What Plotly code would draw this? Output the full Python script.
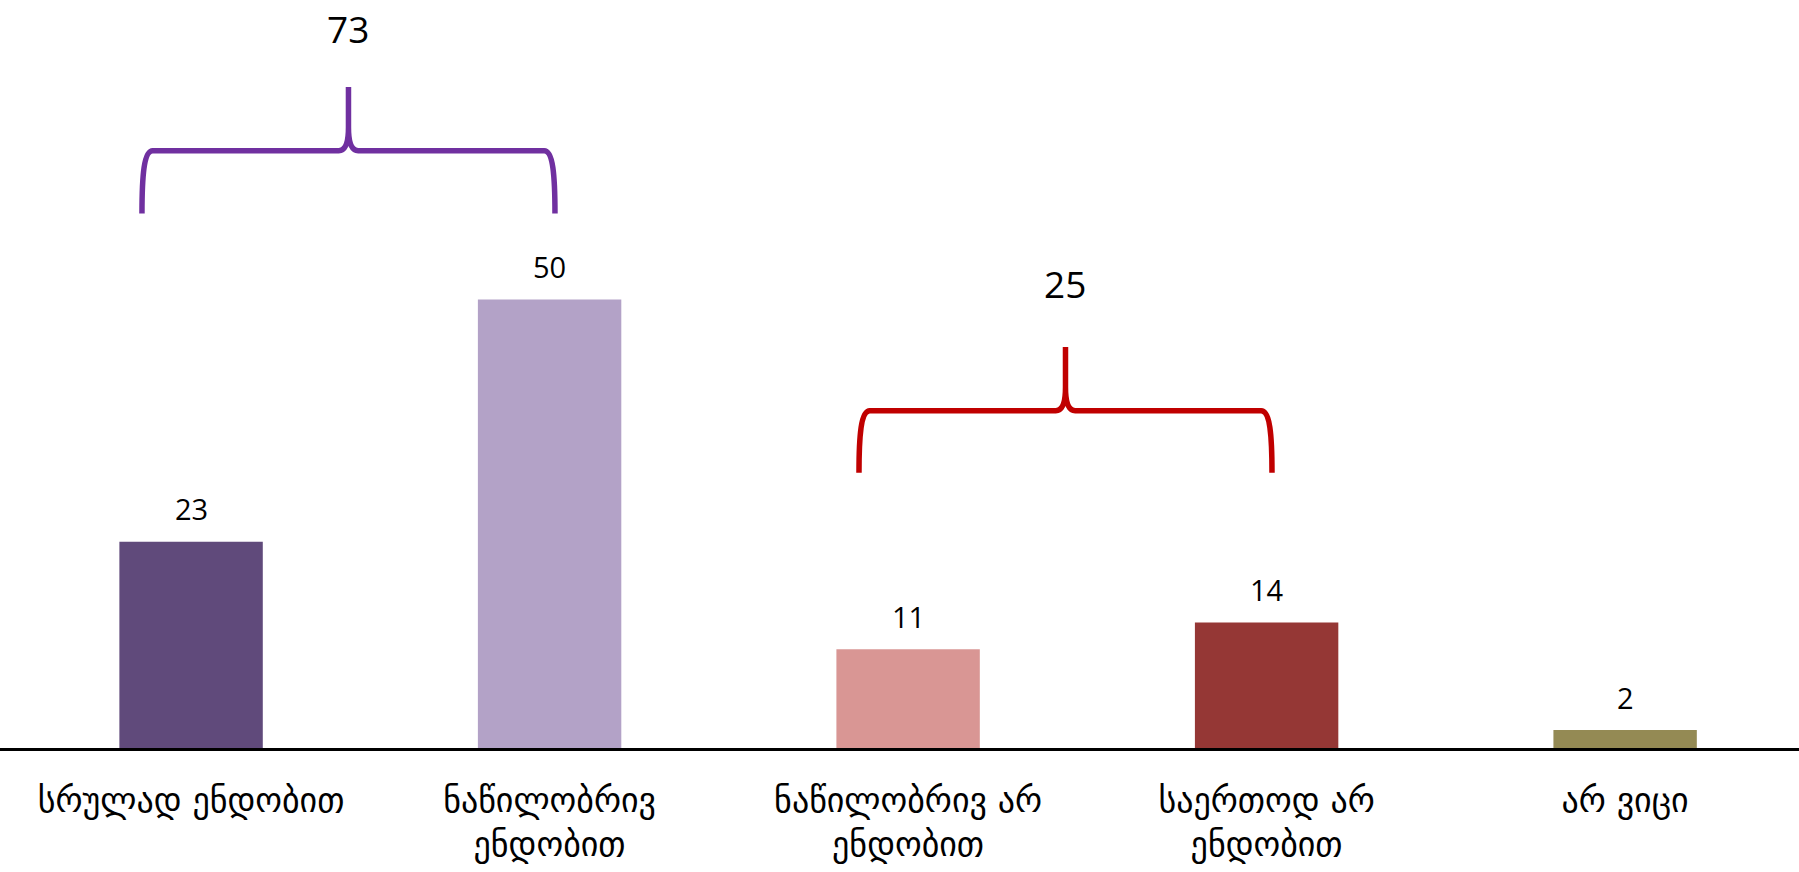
import plotly.graph_objects as go

categories = ["სრულად ენდობით", "ნაწილობრივ<br>ენდობით", "ნაწილობრივ არ<br>ენდობით",
              "საერთოდ არ<br>ენდობით", "არ ვიცი"]
values = [23, 50, 11, 14, 2]
colors = ["#604A7B", "#B3A2C7", "#D99694", "#953735", "#948A54"]

# brace groups: (first index, last index, color, leg bottom, bar level, tip top, label level)
groups = [(0, 1, "#7030A0", 59.6, 66.6, 73.7, 80.2),
          (2, 3, "#C00000", 30.7, 37.6, 44.7, 51.8)]

xs = list(range(len(values)))

fig = go.Figure()
fig.add_trace(go.Bar(x=xs, y=values, marker=dict(color=colors, line=dict(width=0)),
                     width=0.4, hoverinfo="skip"))

for x, v in zip(xs, values):
    fig.add_annotation(x=x, y=v, text=str(v), showarrow=False, yanchor="middle", yshift=33,
                       font=dict(family="Open Sans", size=29, color="black"))

dx = 0.03
dy = 1.2
for i0, i1, col, yb, yh, yt, yl in groups:
    x0 = i0 - 0.137
    x1 = i1 + 0.015
    xc = (x0 + x1) / 2
    path = (f"M {x0},{yb} C {x0},{yh-2.2*dy} {x0+0.2*dx},{yh} {x0+dx},{yh} "
            f"L {xc-dx*0.9},{yh} Q {xc},{yh} {xc},{yh+2.2*dy} L {xc},{yt} "
            f"M {xc},{yh+2.2*dy} Q {xc},{yh} {xc+dx*0.9},{yh} "
            f"L {x1-dx},{yh} C {x1-0.2*dx},{yh} {x1},{yh-2.2*dy} {x1},{yb}")
    fig.add_shape(type="path", path=path, xref="x", yref="y",
                  line=dict(color=col, width=5.5))
    total = sum(values[i0:i1 + 1])
    fig.add_annotation(x=xc, y=yl, text=str(total), showarrow=False, yanchor="middle",
                       font=dict(family="Open Sans", size=37, color="black"))

fig.update_layout(
    width=1799, height=872,
    margin=dict(l=0, r=0, t=0, b=124, autoexpand=False),
    paper_bgcolor="white", plot_bgcolor="white",
    showlegend=False,
    xaxis=dict(range=[-0.533, 4.485], tickvals=xs, ticktext=categories,
               showgrid=False, zeroline=False, showline=True, linecolor="black",
               linewidth=3, ticks="", ticklabelstandoff=20, automargin=False,
               tickfont=dict(family="DejaVu Sans", size=34, color="black")),
    yaxis=dict(range=[0, 83.4], visible=False, showgrid=False, zeroline=False),
)

fig.write_html("out.html", config={"displayModeBar": False},
               post_script="document.body.style.margin='0';document.body.style.overflow='hidden';")
